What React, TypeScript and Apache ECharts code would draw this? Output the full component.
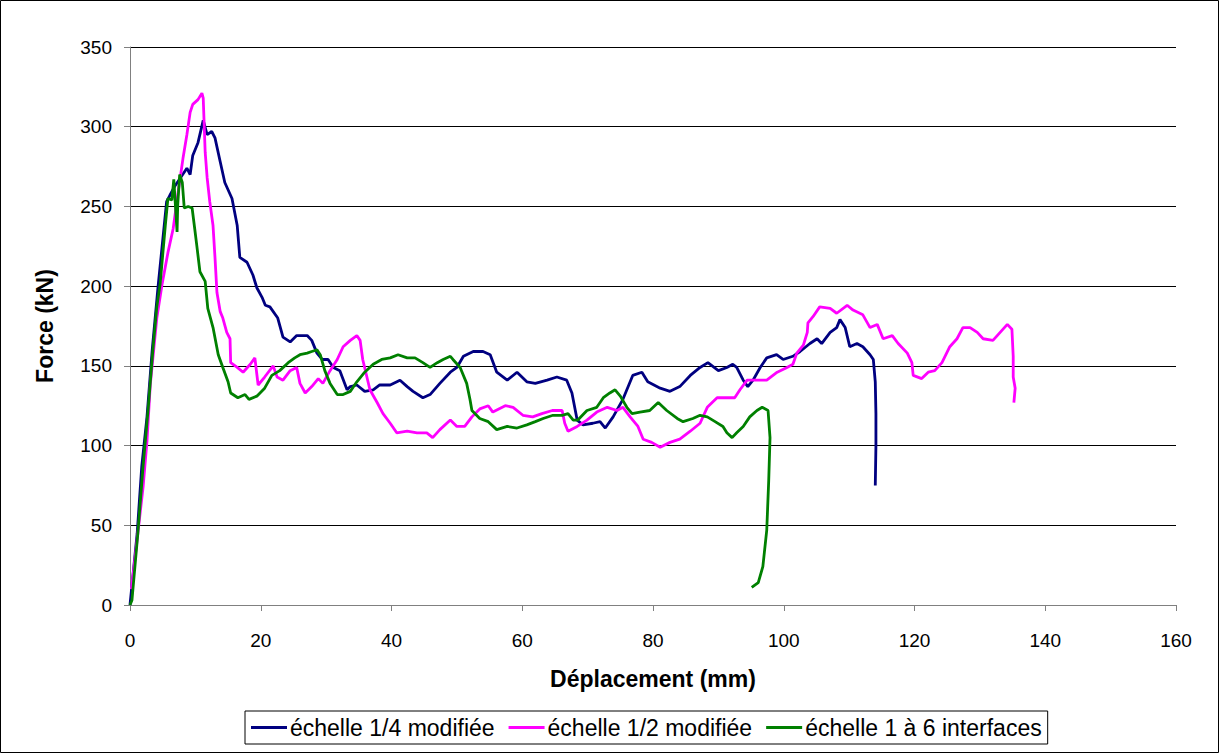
import React, { useEffect, useRef } from "react";
import * as echarts from "echarts";

const seriesNames = ["échelle 1/4 modifiée", "échelle 1/2 modifiée", "échelle 1 à 6 interfaces"];
const seriesColors = ["#000080", "#FF00FF", "#008000"];

const blue: [number, number][] = [
  [0, 0], [1.1, 45], [1.8, 87], [2.6, 118], [3.4, 160], [4.3, 200], [5.6, 253], [6.1, 257], [6.9, 263], [8.7, 274],
  [9.2, 270], [9.6, 282], [10.4, 290], [11.2, 304], [11.8, 295], [12.5, 297], [13, 293], [13.8, 278], [14.5, 265],
  [15.6, 255], [16.4, 238], [16.8, 218], [17.9, 215], [18.8, 207], [19.4, 199], [20.2, 193], [20.7, 188], [21.4, 187],
  [22.6, 180], [23.4, 168], [24.5, 165], [25.5, 169], [27.1, 169], [27.8, 166], [28.6, 158], [29.4, 154], [30.3, 154],
  [31.1, 149], [32.1, 147], [33.2, 135], [33.7, 137], [34.7, 138], [35.9, 134], [37.2, 135], [38.2, 138], [39.8, 138],
  [41.3, 141], [42.4, 137], [43.3, 134], [44.8, 130], [45.9, 132], [47.4, 139], [49, 146], [50, 149], [51, 156],
  [52.5, 159], [54, 159], [55.1, 157], [56.1, 146], [57.7, 141], [59.2, 146], [60.7, 140], [62, 139], [63.8, 141],
  [65.3, 143], [66.8, 141], [67.6, 133], [68.4, 116], [69.3, 113], [70.8, 114], [71.9, 115], [72.7, 111], [73.9, 118],
  [75.4, 129], [76.9, 144], [78.3, 146], [79.2, 140], [81.1, 136], [82.6, 134], [84.1, 137], [85.7, 144], [87.2, 149],
  [88.4, 152], [90, 147], [91.3, 149], [92.2, 151], [92.8, 149], [93.8, 141], [94.5, 137], [95.3, 141], [96.4, 149],
  [97.4, 155], [98.9, 157], [99.9, 154], [101.4, 156], [102.5, 159], [104, 164], [105.1, 167], [105.8, 164],
  [107.1, 171], [108.1, 174], [108.6, 179], [109.4, 174], [110.1, 162], [111.2, 164], [112.1, 162], [113.2, 157],
  [113.7, 154], [114, 140], [114.1, 120], [114.1, 100], [114, 75],
];

const pink: [number, number][] = [
  [0.2, 10], [0.5, 20], [1.2, 45], [2, 74], [2.6, 103], [3.1, 138], [4.1, 180], [4.9, 201], [5.8, 221], [6.6, 236],
  [7.3, 257], [8.1, 280], [8.7, 295], [9.2, 309], [9.6, 314], [10.4, 317], [11, 321], [11.2, 318], [11.5, 284],
  [11.8, 268], [12.2, 253], [12.7, 238], [13, 218], [13.3, 196], [13.8, 184], [14.2, 180], [14.8, 171], [15.3, 167],
  [15.4, 152], [16.4, 149], [17.3, 146], [18.4, 151], [19.1, 155], [19.6, 138], [20.6, 143], [21.9, 150], [22.5, 143],
  [23.4, 141], [24.5, 147], [25.5, 149], [26, 139], [26.8, 133], [27.8, 137], [28.8, 142], [29.5, 139], [30.6, 147],
  [31.7, 154], [32.6, 162], [33.7, 166], [34.7, 169], [35.2, 166], [35.6, 154], [36.7, 135], [37.8, 127], [38.7, 120],
  [39.8, 114], [40.8, 108], [42.4, 109], [43.9, 108], [45.4, 108], [46.3, 105], [47.4, 110], [49, 116], [50, 112],
  [51.2, 112], [52.3, 118], [53.5, 123], [54.8, 125], [55.5, 121], [57.4, 125], [58.6, 124], [60.1, 119], [61.6, 118],
  [63, 120], [64.6, 122], [66.1, 122], [66.5, 114], [67, 109], [68.4, 112], [69.9, 116], [71.4, 121], [73, 124],
  [74.5, 122], [75.4, 124], [76.5, 118], [77.7, 112], [78.5, 104], [79.8, 102], [81.1, 99], [82.6, 102], [84.1, 104],
  [85.7, 109], [87.2, 114], [88.3, 124], [89.8, 130], [91.3, 130], [92.5, 130], [93.3, 135], [94.4, 141], [95.9, 141],
  [97.4, 141], [99, 146], [100.5, 149], [101.4, 151], [102, 158], [103, 163], [103.6, 171], [103.7, 177], [104.5, 181],
  [105.5, 187], [107.1, 186], [108.1, 183], [109.7, 188], [110.6, 185], [112.1, 182], [113.2, 174], [114.3, 176],
  [115.2, 167], [116.6, 169], [117.5, 164], [118.9, 158], [119.6, 152], [119.8, 144], [121.1, 142], [122.1, 146],
  [123.1, 147], [124.2, 152], [125.4, 162], [126.5, 167], [127.4, 174], [128.5, 174], [129.6, 171], [130.5, 167],
  [132, 166], [133.1, 171], [134.2, 176], [134.9, 173], [135.1, 156], [135.1, 143], [135.4, 136], [135.2, 127],
];

const green: [number, number][] = [
  [0, 0], [0.3, 3], [1.2, 45], [2, 87], [2.8, 124], [3.5, 160], [4.1, 187], [4.6, 201], [5.4, 238], [5.8, 255],
  [6.4, 254], [6.7, 267], [7.2, 234], [7.3, 251], [7.6, 270], [8, 265], [8.3, 249], [8.9, 250], [9.5, 249], [9.9, 236],
  [10.2, 226], [10.7, 209], [11.5, 203], [11.9, 186], [12.7, 174], [13.5, 157], [14.2, 149], [15, 140], [15.4, 133],
  [16.5, 130], [17.6, 132], [18.2, 129], [19.4, 131], [20.6, 136], [21.7, 144], [22.9, 147], [24.2, 152], [25.2, 155],
  [26, 157], [27.1, 158], [27.8, 159], [28.6, 160], [29.1, 157], [29.8, 147], [30.6, 139], [31.7, 132], [32.6, 132],
  [33.7, 134], [34.7, 140], [35.9, 146], [37.2, 151], [38.5, 154], [39.8, 155], [41, 157], [42.4, 155], [43.6, 155],
  [44.8, 152], [45.9, 149], [47, 152], [47.9, 154], [49, 156], [49.4, 154], [50.5, 149], [51.5, 139], [52, 129],
  [52.3, 122], [53.5, 117], [54.8, 115], [56.1, 110], [57.7, 112], [59.2, 111], [60.7, 113], [62, 115], [63.2, 117],
  [64.7, 119], [66.1, 119], [67, 120], [67.8, 116], [68.5, 116], [69.9, 122], [71.4, 124], [72.4, 130], [73.4, 133],
  [74.2, 135], [75, 131], [76, 124], [76.8, 120], [78, 121], [79.5, 122], [80.8, 127], [82.1, 122], [83.7, 117],
  [84.6, 115], [86.1, 117], [87.2, 119], [88.3, 118], [89.5, 115], [90.7, 112], [91.3, 108], [92.1, 105], [92.8, 108],
  [93.8, 112], [94.8, 118], [95.9, 122], [96.7, 124], [97.6, 122], [97.9, 105], [97.7, 78], [97.4, 47], [96.8, 24],
  [96.1, 14], [95.1, 11],
];

const xTicks = { min: 0, max: 160, interval: 20 };
const yTicks = { min: 0, max: 350, interval: 50 };

const FONT = "'Liberation Sans', Arial, sans-serif";

export default function App() {
  const ref = useRef<HTMLDivElement>(null);
  useEffect(() => {
    document.body.style.margin = "0";
    const chart = echarts.init(ref.current!, undefined, { renderer: "svg" });
    const data = [blue, pink, green];
    chart.setOption({
      animation: false,
      backgroundColor: "#ffffff",
      textStyle: { fontFamily: FONT },
      graphic: [
        {
          type: "rect",
          shape: { x: 0.5, y: 0.5, width: 1218, height: 752 },
          style: { fill: "none", stroke: "#000", lineWidth: 1 },
          silent: true,
        },
      ],
      grid: { left: 130, top: 47, width: 1046, height: 558, containLabel: false },
      xAxis: {
        type: "value",
        min: xTicks.min,
        max: xTicks.max,
        interval: xTicks.interval,
        name: "Déplacement (mm)",
        nameLocation: "middle",
        nameGap: 62,
        nameTextStyle: { fontSize: 23, fontWeight: "bold", color: "#000", fontFamily: FONT },
        axisLine: { show: true, lineStyle: { color: "#808080", width: 1 } },
        axisTick: { show: true, length: 6, lineStyle: { color: "#808080" } },
        axisLabel: { fontSize: 19, color: "#000", margin: 26, fontFamily: FONT },
        splitLine: { show: false },
      },
      yAxis: {
        type: "value",
        min: yTicks.min,
        max: yTicks.max,
        interval: yTicks.interval,
        name: "Force (kN)",
        nameLocation: "middle",
        nameGap: 74,
        nameTextStyle: { fontSize: 23, fontWeight: "bold", color: "#000", fontFamily: FONT },
        axisLine: { show: true, lineStyle: { color: "#808080", width: 1 } },
        axisTick: { show: true, length: 6, lineStyle: { color: "#808080" } },
        axisLabel: { fontSize: 19, color: "#000", margin: 18, fontFamily: FONT },
        splitLine: { show: true, lineStyle: { color: "#000", width: 1 } },
      },
      legend: {
        left: 245,
        top: 711,
        data: seriesNames,
        icon: "rect",
        itemWidth: 36,
        itemHeight: 3,
        itemGap: 14,
        padding: [5, 6, 5, 6],
        borderColor: "#000",
        borderWidth: 1,
        textStyle: { fontSize: 23, color: "#000", fontFamily: FONT, padding: [0, 0, 0, -2] },
      },
      series: seriesNames.map((n, i) => ({
        name: n,
        type: "line",
        data: data[i],
        showSymbol: false,
        symbol: "none",
        smooth: false,
        color: seriesColors[i],
        lineStyle: { color: seriesColors[i], width: 2.8 },
      })),
    });
    return () => chart.dispose();
  }, []);
  return <div ref={ref} style={{ position: "absolute", left: 0, top: 0, width: 1220, height: 754 }} />;
}
